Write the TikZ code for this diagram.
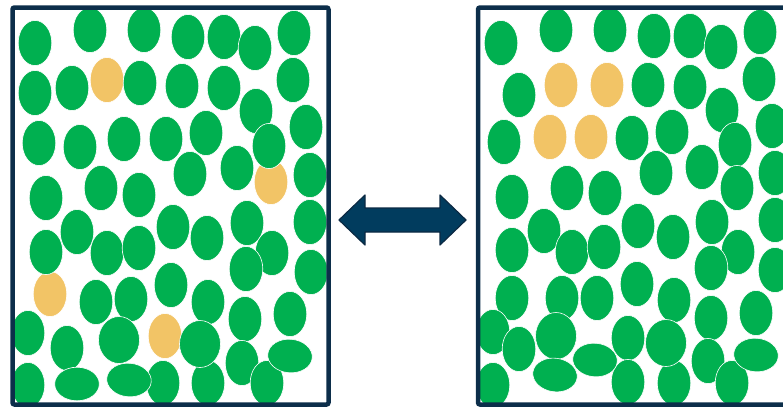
\documentclass[tikz,border=0pt]{standalone}
\usepackage{tikz}

\definecolor{cellgreen}{RGB}{0,176,80}
\definecolor{cellgold}{RGB}{242,196,102}
\definecolor{boxnavy}{RGB}{12,46,74}
\definecolor{arrowblue}{RGB}{1,60,94}

\begin{document}
\begin{tikzpicture}[
      x=1pt, y=-1pt,
      cell/.style={
        fill=cellgreen,
        draw=white,
        line width=0.6pt
      },
      oddcell/.style={
        fill=cellgold,
        draw=white,
        line width=0.6pt
      },
      frame/.style={
        draw=boxnavy,
        line width=4.5pt,
        rounded corners=2pt
      },
      swap/.style={
        fill=arrowblue,
        draw=boxnavy!90!black,
        line width=1.2pt,
        line join=round
      }
    ]
    \useasboundingbox (0,0) rectangle (783,407);

    % Left box cells
    \begin{scope}
      \clip (14.5,9.5) rectangle (326.5,402.5);
      \foreach \p in {(107,80),(271,182),(50,294),(165,336)}
        \fill[oddcell] \p ellipse [x radius=16.8, y radius=22.6];
      \foreach \p in {(35,43),(90,30),(144,30),(188,37),(224,37),(255,48),(294,33),
                      (35,93),(72,88),(140,83),(182,86),(224,88),(293,80),(256,111),
                      (39,143),(80,147),(124,139),(166,139),(206,133),(306,127),(269,146),
                      (190,174),(237,168),(310,175),(46,198),(101,188),(139,195),
                      (310,222),(77,232),(46,252),(107,253),(139,248),(173,227),(207,238),
                      (247,223),(272,253),(246,269),(311,272),
                      (96,302),(131,299),(171,285),(208,302),(245,319),(290,314),
                      (28,333),(67,348),(242,363),
                      (28,385),(163,383),(208,383),(267,383)}
        \fill[cell] \p ellipse [x radius=16.8, y radius=22.6];
      \foreach \p in {(119,340),(200,344)}
        \fill[cell] \p ellipse [x radius=20.5, y radius=23.5];
      \foreach \p/\a in {(290,356)/-5,(77,384)/0,(129,380)/-5}
        \fill[cell, rotate around={\a:\p}] \p ellipse [x radius=22.3, y radius=16.8];
    \end{scope}

    % Right box cells
    \begin{scope}
      \clip (480,9.5) rectangle (800,402.5);
      \foreach \p in {(561,85),(607,85),(550,137),(591,137)}
        \fill[oddcell] \p ellipse [x radius=16.8, y radius=22.6];
      \foreach \p in {(501,43),(556,30),(610,30),(654,36),(690,36),(721,47),(760,32),
                      (519,95),(648,85),(690,87),(759,79),(722,110),
                      (504,142),(632,138),(672,132),(772,126),(735,145),
                      (656,173),(702,167),(737,188),(775,173),(512,197),(567,188),(605,193),
                      (775,220),(544,231),(512,250),(572,252),(604,247),(638,226),(673,237),
                      (712,222),(738,252),(711,268),(775,270),
                      (512,298),(562,298),(597,298),(637,284),(674,300),(711,318),(756,313),
                      (493,332),(519,349),(628,338),(708,361),
                      (493,385),(628,382),(674,383),(732,383)}
        \fill[cell] \p ellipse [x radius=16.8, y radius=22.6];
      \foreach \p in {(556,336),(666,343)}
        \fill[cell] \p ellipse [x radius=20.5, y radius=23.5];
      \foreach \p/\a in {(756,355)/-5,(555,375)/-8,(595,360)/-5}
        \fill[cell, rotate around={\a:\p}] \p ellipse [x radius=22.3, y radius=16.8];
    \end{scope}

    % Boxes
    \draw[frame] (12.5,7.5) rectangle (328.5,404.5);
    \draw[frame] (478,7.5) rectangle (810,404.5);

    % Double arrow between boxes
    \draw[swap] (339,220) -- (365,195) -- (365,208) -- (440,208) -- (440,195)
      -- (466,220) -- (440,245) -- (440,232) -- (365,232) -- (365,245) -- cycle;

\end{tikzpicture}
\end{document}
